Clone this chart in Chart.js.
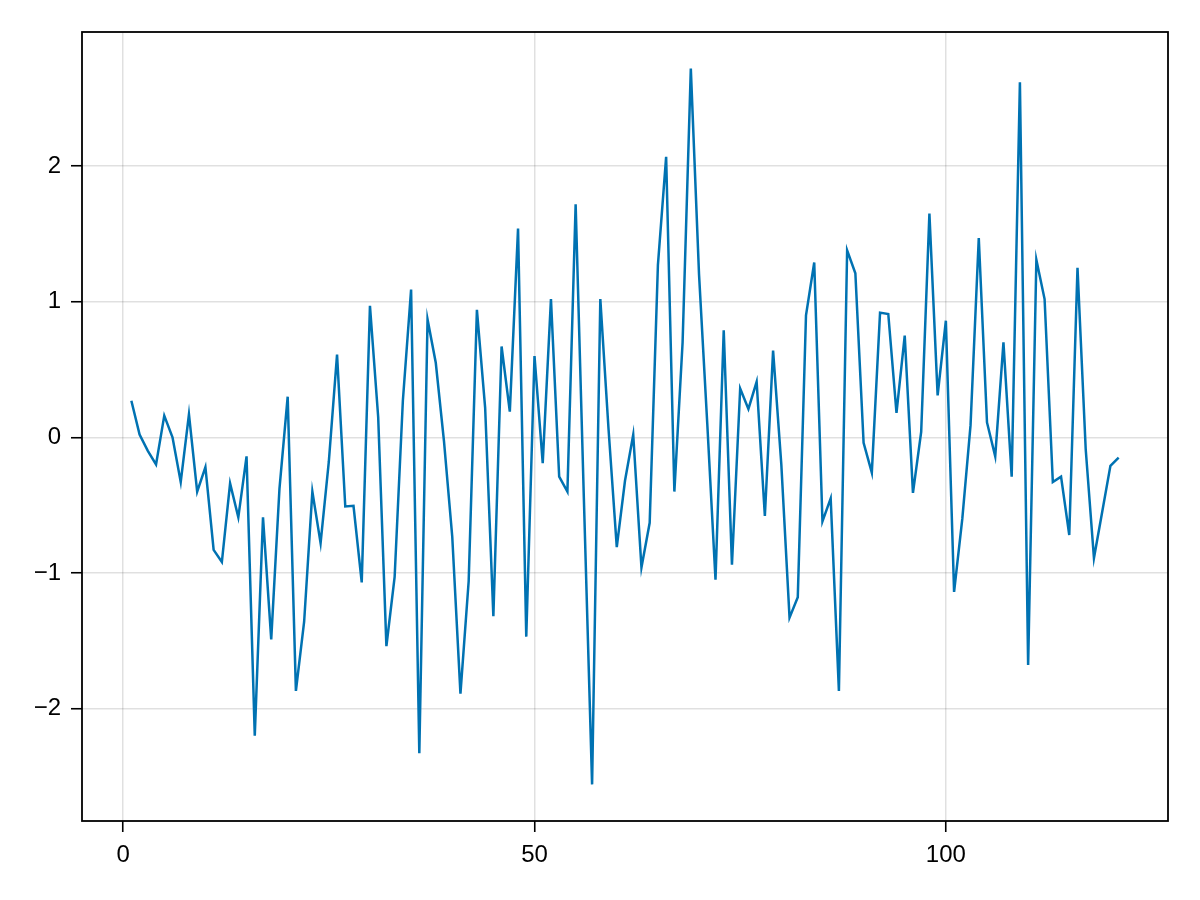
<!DOCTYPE html>
<html lang="en">
  <head>
    <meta charset="UTF-8" />
    <title>Series</title>
    <style>
      html, body { margin: 0; padding: 0; background: #fff; }
      .container { width: 1200px; height: 900px; }
    </style>
  </head>
  <body>
    <div class="container">
      <canvas id="myChart" width="1200" height="900"></canvas>
    </div>
    <script src="https://cdn.jsdelivr.net/npm/chart.js@4.4.0/dist/chart.umd.min.js"></script>
    <script>
      // values, x = 1..121
      const values = [
        0.27, 0.02, -0.10, -0.20, 0.16, 0.0, -0.33, 0.17, -0.40, -0.22,
        -0.83, -0.92, -0.34, -0.59, -0.14, -2.20, -0.59, -1.49, -0.38, 0.30,
        -1.87, -1.36, -0.40, -0.78, -0.18, 0.61, -0.51, -0.505, -1.07, 0.97,
        0.15, -1.54, -1.03, 0.27, 1.09, -2.33, 0.87, 0.55, -0.03, -0.73,
        -1.89, -1.06, 0.94, 0.22, -1.32, 0.67, 0.19, 1.54, -1.47, 0.60,
        -0.19, 1.02, -0.29, -0.40, 1.72, -0.45, -2.56, 1.02, 0.06, -0.81,
        -0.32, 0.02, -0.96, -0.63, 1.27, 2.07, -0.40, 0.70, 2.72, 1.20,
        0.10, -1.05, 0.79, -0.94, 0.36, 0.21, 0.41, -0.58, 0.64, -0.20,
        -1.33, -1.18, 0.90, 1.29, -0.62, -0.45, -1.87, 1.38, 1.21, -0.04,
        -0.26, 0.92, 0.91, 0.18, 0.75, -0.41, 0.04, 1.65, 0.31, 0.86,
        -1.14, -0.60, 0.09, 1.47, 0.11, -0.14, 0.70, -0.29, 2.62, -1.68,
        1.31, 1.02, -0.33, -0.29, -0.72, 1.25, -0.09, -0.89, -0.55, -0.21,
        -0.15
      ];
      const xTicks = [0, 50, 100];
      const yTicks = [-2, -1, 0, 1, 2];

      const points = values.map((v, i) => ({ x: i + 1, y: v }));

      const frame = {
        id: "frame",
        afterDraw(chart) {
          const { ctx, chartArea: a } = chart;
          ctx.save();
          ctx.strokeStyle = "#000";
          ctx.lineWidth = 1.8;
          ctx.strokeRect(a.left, a.top, a.right - a.left, a.bottom - a.top);
          ctx.restore();
        },
      };

      const minus = (v) => String(v).replace("-", "\u2212");

      const gridOpts = {
        color: "rgba(0,0,0,0.12)",
        lineWidth: 1.5,
        drawTicks: true,
        tickLength: 11,
        tickColor: "#000",
        tickWidth: 1.6,
      };

      const ctx = document.getElementById("myChart").getContext("2d");
      new Chart(ctx, {
        type: "line",
        data: {
          datasets: [
            {
              data: points,
              borderColor: "#0072B2",
              borderWidth: 2.5,
              pointRadius: 0,
              tension: 0,
              fill: false,
            },
          ],
        },
        options: {
          responsive: false,
          animation: false,
          layout: { padding: { left: 0, right: 32, top: 32, bottom: 0 } },
          plugins: { legend: { display: false }, tooltip: { enabled: false } },
          scales: {
            x: {
              type: "linear",
              min: -5,
              max: 127,
              afterBuildTicks: (s) => { s.ticks = xTicks.map((v) => ({ value: v })); },
              afterFit: (s) => { s.height = 79; },
              grid: gridOpts,
              border: { display: false },
              ticks: {
                padding: 9,
                color: "#000",
                font: { family: "Liberation Sans", size: 24 },
                callback: (v) => minus(v),
              },
            },
            y: {
              type: "linear",
              min: -2.83,
              max: 2.99,
              afterBuildTicks: (s) => { s.ticks = yTicks.map((v) => ({ value: v })); },
              afterFit: (s) => { s.width = 82; },
              grid: gridOpts,
              border: { display: false },
              ticks: {
                padding: 10,
                color: "#000",
                font: { family: "Liberation Sans", size: 24 },
                callback: (v) => minus(v),
              },
            },
          },
        },
        plugins: [frame],
      });
    </script>
  </body>
</html>
